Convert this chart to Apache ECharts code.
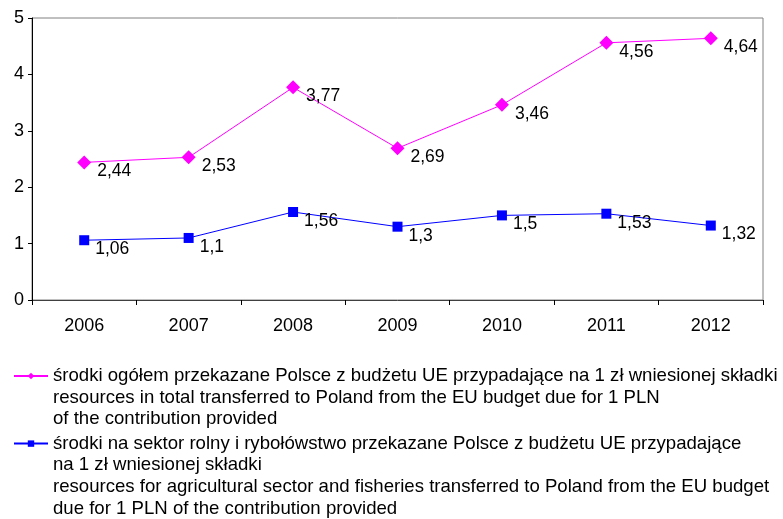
<!DOCTYPE html>
<html><head><meta charset="utf-8">
<script src="https://cdn.jsdelivr.net/npm/echarts@6/dist/echarts.min.js"></script>
<style>html,body{margin:0;padding:0;background:#fff}#c{width:783px;height:519px}</style>
</head><body><div id="c"></div>
<script>
const years = ['2006','2007','2008','2009','2010','2011','2012'];
const totalValues = [2.44, 2.53, 3.77, 2.69, 3.46, 4.56, 4.64];
const agriValues = [1.06, 1.10, 1.56, 1.30, 1.50, 1.53, 1.32];
const yTicks = [0, 1, 2, 3, 4, 5];
const totalName = 'środki ogółem przekazane Polsce z budżetu UE przypadające na 1 zł wniesionej składki\nresources in total transferred to Poland from the EU budget due for 1 PLN\nof the contribution provided';
const agriName = 'środki na sektor rolny i rybołówstwo przekazane Polsce z budżetu UE przypadające\nna 1 zł wniesionej składki\nresources for agricultural sector and fisheries transferred to Poland from the EU budget\ndue for 1 PLN of the contribution provided';

const font = 'Liberation Sans, Arial, sans-serif';
const LH = 21.6;
const chart = echarts.init(document.getElementById('c'));
const lbl = {
  show: true, position: 'right', distance: 6, offset: [0, 9],
  color: '#000', fontFamily: font, fontSize: 17.5,
  formatter: p => String(p.value).replace('.', ',')
};
function legendFor(name, top) {
  const n = name.split('\n').length;
  return {
    orient: 'vertical', left: 13, top: top, itemWidth: 34, itemHeight: 8, itemGap: 0,
    padding: 0, data: [name],
    formatter: s => '\n'.repeat(n - 1) + s,
    textStyle: { fontFamily: font, fontSize: 18.6, color: '#000', lineHeight: LH }
  };
}
chart.setOption({
  animation: false,
  backgroundColor: '#fff',
  grid: { left: 32, right: 20, top: 18, bottom: 219, show: true, borderColor: '#808080', borderWidth: 1, backgroundColor: 'transparent' },
  legend: [legendFor(totalName, 322), legendFor(agriName, 368)],
  xAxis: {
    type: 'category', data: years, boundaryGap: true,
    axisLine: { lineStyle: { color: '#404040', width: 1 } },
    axisTick: { show: true, length: 5, lineStyle: { color: '#000' } },
    axisLabel: { color: '#000', fontFamily: font, fontSize: 18, margin: 17 },
    splitLine: { show: false }
  },
  yAxis: {
    type: 'value', min: 0, max: 5, interval: 1,
    axisLine: { show: true, lineStyle: { color: '#000', width: 1 } },
    axisTick: { show: true, length: 4, lineStyle: { color: '#000' } },
    axisLabel: { color: '#000', fontFamily: font, fontSize: 18, margin: 8,
      formatter: v => yTicks.includes(v) ? String(v) : '' },
    splitLine: { show: false }
  },
  series: [
    { name: totalName, type: 'line', data: totalValues, symbol: 'diamond', symbolSize: 14,
      itemStyle: { color: '#FF00FF' }, lineStyle: { color: '#FF00FF', width: 1 }, label: lbl },
    { name: agriName, type: 'line', data: agriValues, symbol: 'rect', symbolSize: 10,
      itemStyle: { color: '#0000FF' }, lineStyle: { color: '#0000FF', width: 1 }, label: lbl }
  ]
});
</script></body></html>
